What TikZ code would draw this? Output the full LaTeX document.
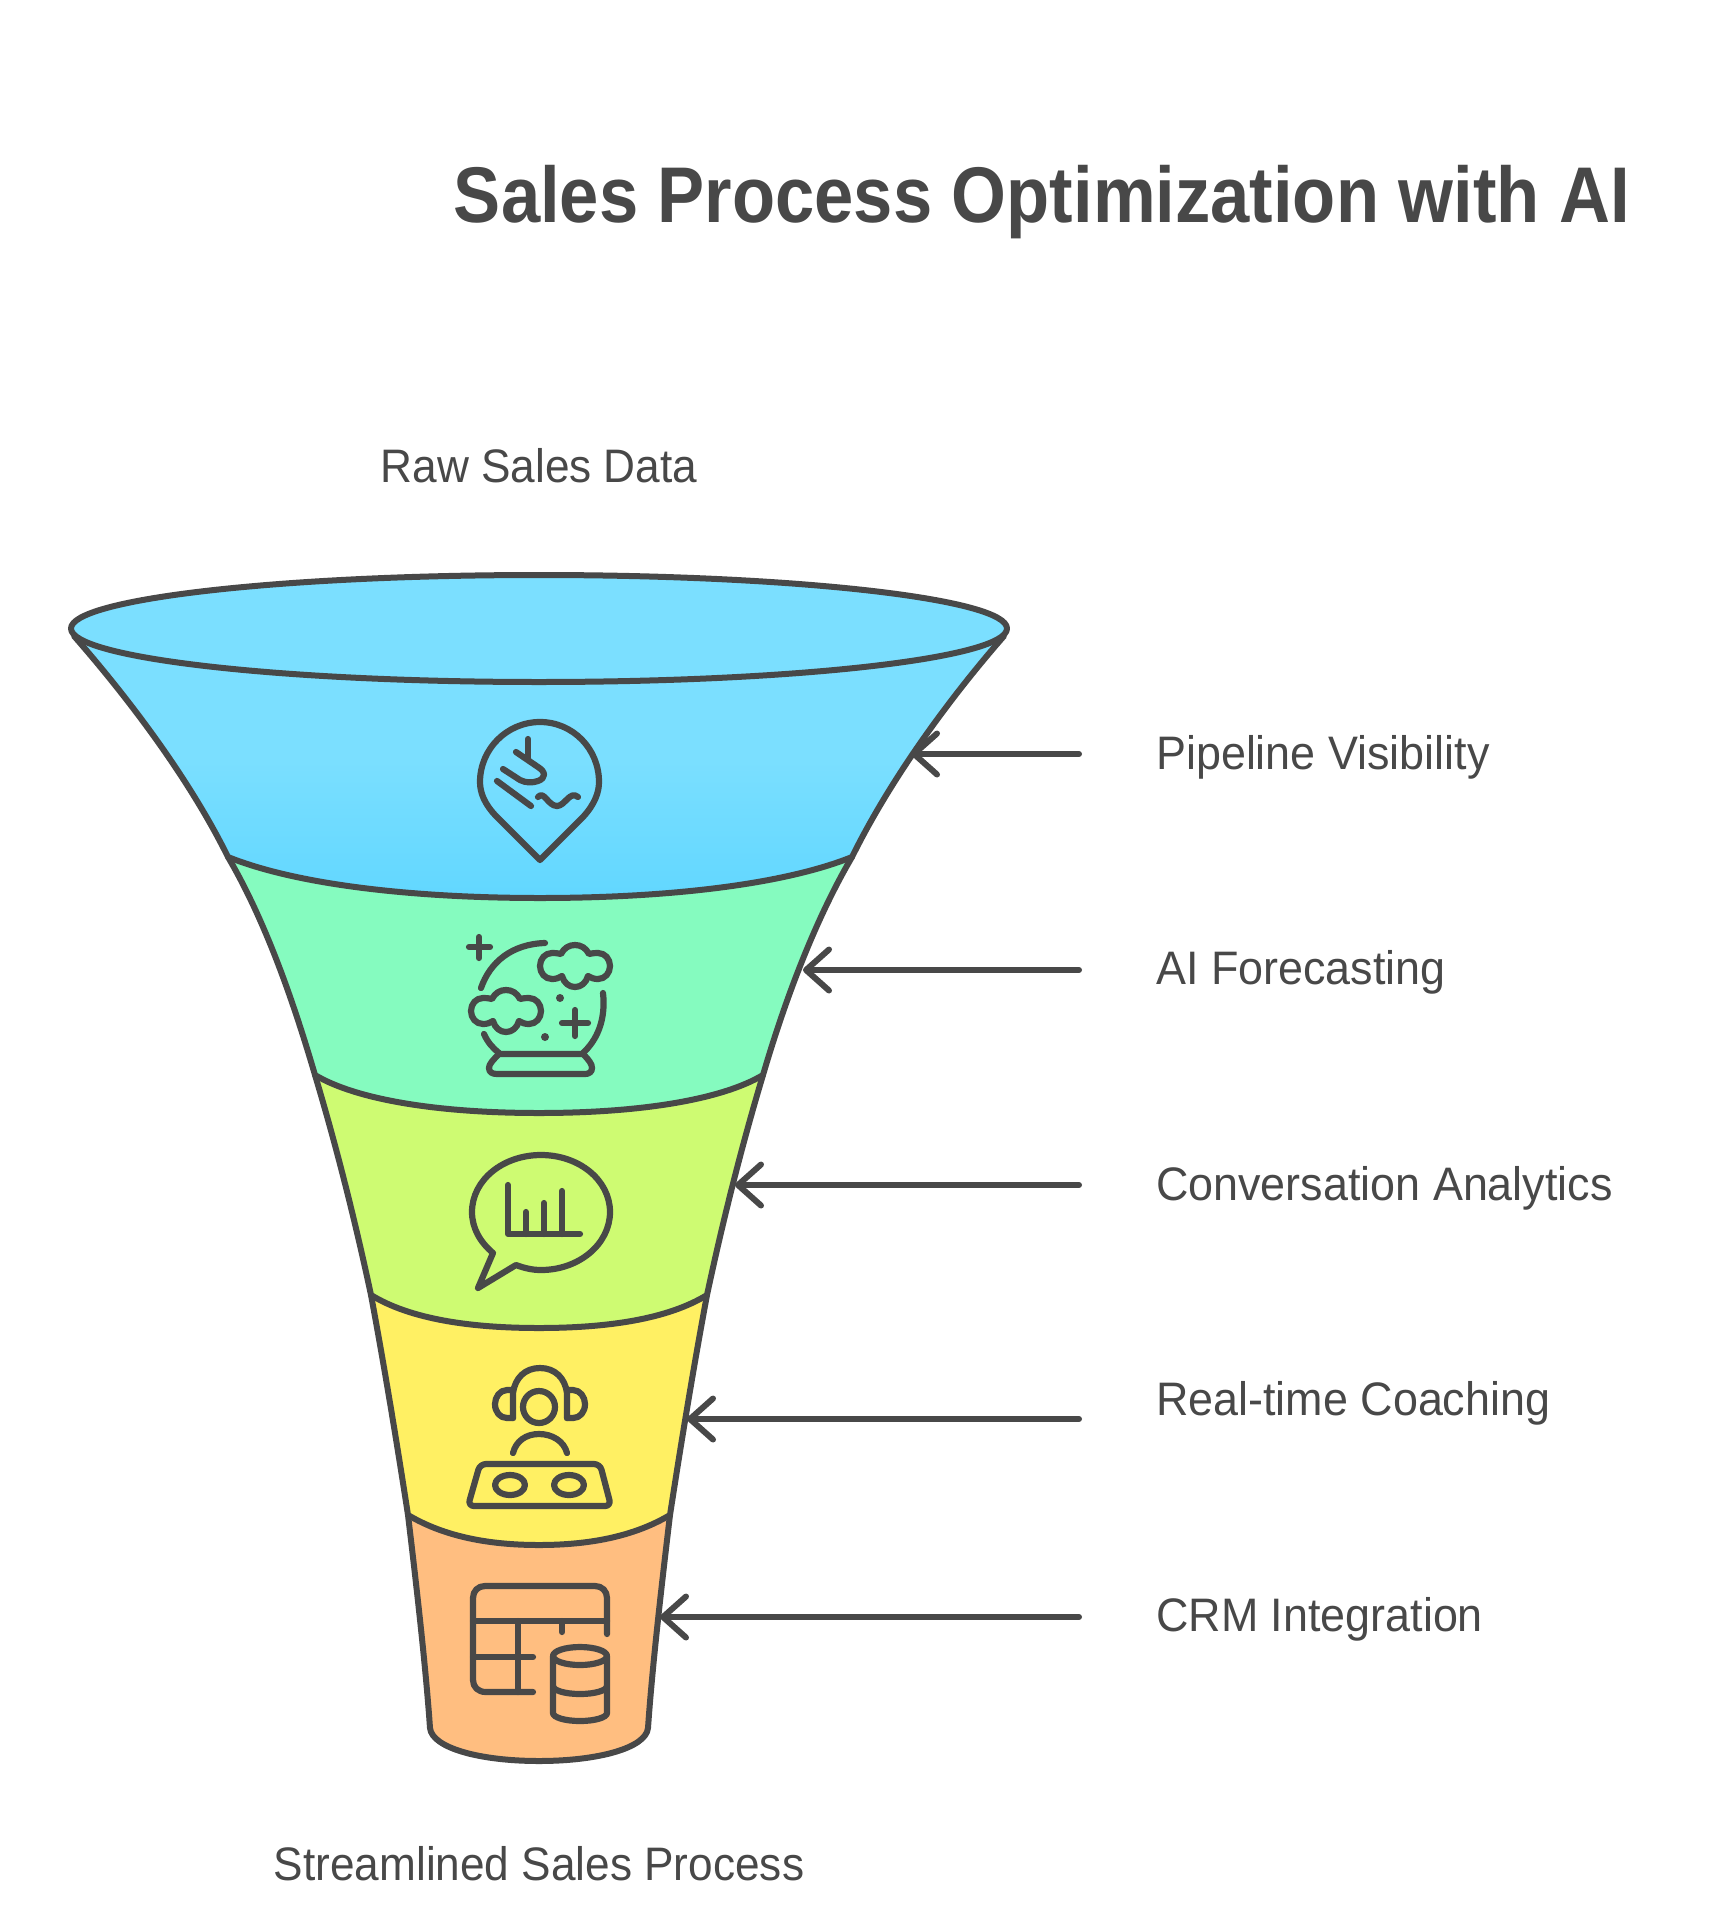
\documentclass[tikz,border=0pt]{standalone}
\usepackage{fontspec}
\setmainfont{Liberation Sans}
\newfontfamily\titlefont{Liberation Sans}[FakeStretch=0.893]
\newfontfamily\labelfont{Liberation Sans}[FakeStretch=0.955]
\newfontfamily\endfont{Liberation Sans}[FakeStretch=0.94]
\usetikzlibrary{arrows.meta}

\definecolor{inkgray}{HTML}{484848}
\definecolor{bandlight}{HTML}{7BDFFF}
\definecolor{banddeep}{HTML}{55D3FF}
\definecolor{bandmint}{HTML}{85FBBF}
\definecolor{bandlime}{HTML}{CEFB72}
\definecolor{bandyellow}{HTML}{FFF063}
\definecolor{bandorange}{HTML}{FFBE80}

\pgfdeclareverticalshading{bandsky}{100bp}{color(0bp)=(banddeep); color(12bp)=(banddeep); color(52bp)=(bandlight); color(100bp)=(bandlight)}

\tikzset{
funnelline/.style = {draw=inkgray, line width=6pt, line join=round},
iconline/.style   = {draw=inkgray, line width=6.2pt, line cap=round, line join=round},
pointer/.style    = {draw=inkgray, line width=6pt, line cap=round,
                     -{Straight Barb[length=23pt,width=41pt,round]}},
sidelabel/.style  = {anchor=base west, inner sep=0pt, text=inkgray,
                     font=\labelfont\fontsize{47}{56}\selectfont},
endlabel/.style   = {anchor=base, inner sep=0pt, text=inkgray,
                     font=\endfont\fontsize{47}{56}\selectfont},
}

\begin{document}
\begin{tikzpicture}[x=1pt,y=-1pt]
%\draw[help lines,step=100] (0,0) grid (1727,1905);
\useasboundingbox (0,0) rectangle (1727,1905);

\node[anchor=base, inner sep=0pt, text=inkgray, font=\titlefont\bfseries\fontsize{79}{94}\selectfont] (title) at (1042,222.5) {Sales Process Optimization with AI};
\node[endlabel] (rawdata) at (539,482) {Raw Sales Data};
\node[endlabel] (streamlined) at (539,1880) {Streamlined Sales Process};

% funnel, lowest band first
\draw[funnelline, fill=bandorange] (408,1515) .. controls (417,1590) and (426,1670) .. (430,1728)
  .. controls (432,1748) and (480,1761) .. (539,1761) .. controls (598,1761) and (646,1748) .. (648,1728)
  .. controls (652,1670) and (661,1590) .. (670,1515) -- cycle;
\draw[funnelline, fill=bandyellow] (371,1295) .. controls (385,1370) and (398,1450) .. (408,1515)
  .. controls (445,1537) and (490,1545) .. (539,1545) .. controls (588,1545) and (633,1537) .. (670,1515)
  .. controls (680,1450) and (693,1370) .. (707,1295) -- cycle;
\draw[funnelline, fill=bandlime] (315,1075) .. controls (336,1145) and (355,1220) .. (371,1295)
  .. controls (410,1319) and (470,1328) .. (539,1328) .. controls (608,1328) and (668,1319) .. (707,1295)
  .. controls (723,1220) and (742,1145) .. (763,1075) -- cycle;
\draw[funnelline, fill=bandmint] (228,857) .. controls (265,920) and (293,1000) .. (315,1075)
  .. controls (355,1099) and (435,1113) .. (539,1113) .. controls (643,1113) and (723,1099) .. (763,1075)
  .. controls (785,1000) and (815,920) .. (852,857) -- cycle;
\draw[funnelline, shading=bandsky] (74,636) .. controls (130,700) and (190,780) .. (228,857)
  .. controls (300,886) and (420,898) .. (540,898) .. controls (660,898) and (780,886) .. (852,857)
  .. controls (890,780) and (948,700) .. (1004,636) -- cycle;
\draw[funnelline, fill=bandlight] (539,628.5) ellipse[x radius=468, y radius=53.5];

% pin icon
\draw[iconline] (540,860) -- (497,817) .. controls (484,804) and (480,792) .. (480,782)
  .. controls (480,749) and (507,722) .. (540,722) .. controls (573,722) and (599,749) .. (599,782)
  .. controls (599,792) and (595,804) .. (583,817) -- cycle;
\draw[iconline] (528,739) -- (528,759);
\draw[iconline] (516,752) -- (538,767) .. controls (546,772) and (546,778) .. (538,781)
  .. controls (532,783) and (526,783) .. (520,780) -- (503,769);
\draw[iconline] (497,781) -- (531,806);
\draw[iconline] (538,797) .. controls (544,790) and (548,806) .. (557,806)
  .. controls (565,806) and (570,790) .. (578,797);

% crystal ball icon
\draw[iconline] (469,947) -- (490,947) (479,937) -- (479,958);
\draw[iconline] (545,943) .. controls (512,944) and (490,962) .. (481,988);
\draw[iconline] (603,993) .. controls (606,1020) and (597,1040) .. (583,1053);
\draw[iconline] (484,1034) .. controls (488,1043) and (493,1048) .. (499,1053);
\draw[iconline] (499,1054) -- (583,1054) .. controls (589,1060) and (592,1064) .. (592,1068)
  .. controls (592,1072) and (589,1074) .. (585,1074) -- (497,1074)
  .. controls (492,1074) and (489,1072) .. (489,1068) .. controls (489,1064) and (493,1060) .. (499,1054) -- cycle;
\foreach \cx/\cy in {575/966,506/1011}
  \draw[iconline, shift={(\cx,\cy)}] (-14,-12) .. controls (-18,-13) and (-21,-13) .. (-23,-13)
    .. controls (-30,-13) and (-35,-7) .. (-35,0) .. controls (-35,7) and (-30,13) .. (-23,13)
    .. controls (-19,13) and (-16,12) .. (-13,10) .. controls (-11,17) and (-6,21) .. (0,21)
    .. controls (6,21) and (11,17) .. (13,10) .. controls (16,12) and (19,13) .. (23,13)
    .. controls (30,13) and (35,7) .. (35,0) .. controls (35,-7) and (30,-13) .. (23,-13)
    .. controls (21,-13) and (18,-13) .. (14,-12) .. controls (11,-18) and (6,-21) .. (0,-21)
    .. controls (-6,-21) and (-11,-18) .. (-14,-12) -- cycle;
\fill[inkgray] (560,998) circle[radius=4] (545,1037) circle[radius=4];
\draw[iconline] (562,1023) -- (588,1023) (575,1010) -- (575,1036);

% speech bubble icon
\draw[iconline] (493,1253) .. controls (480,1242) and (472,1228) .. (472,1212)
  .. controls (472,1180) and (503,1155) .. (541,1155) .. controls (579,1155) and (610,1180) .. (610,1212)
  .. controls (610,1244) and (579,1270) .. (541,1270) .. controls (532,1270) and (524,1268) .. (516,1265)
  -- (478,1288) -- cycle;
\draw[iconline] (508,1185) -- (508,1234) -- (580,1234);
\draw[iconline] (526,1212) -- (526,1234) (544,1203) -- (544,1234) (562,1191) -- (562,1234);

% coach icon
\draw[iconline] (539,1407) circle[radius=16];
\draw[iconline] (513,1418) -- (513,1393) .. controls (515,1378) and (525,1368) .. (540,1368)
  .. controls (555,1368) and (565,1378) .. (567,1393) -- (567,1418);
\draw[iconline] (513,1390) -- (507,1390) .. controls (500,1390) and (495,1397) .. (495,1404)
  .. controls (495,1412) and (500,1418) .. (507,1418) -- (513,1418);
\draw[iconline] (567,1390) -- (573,1390) .. controls (580,1390) and (585,1397) .. (585,1404)
  .. controls (585,1412) and (580,1418) .. (573,1418) -- (567,1418);
\draw[iconline] (513,1453) .. controls (516,1441) and (526,1434) .. (539,1434) .. controls (552,1434) and (564,1441) .. (567,1453);
\draw[iconline, rounded corners=6pt] (480,1464) -- (600,1464) -- (611,1506) -- (468,1506) -- cycle;
\draw[iconline] (510,1485) ellipse[x radius=15, y radius=10];
\draw[iconline] (569,1485) ellipse[x radius=15, y radius=10];

% table and database icon
\draw[iconline] (533,1692) -- (486,1692) .. controls (478,1692) and (473,1687) .. (473,1680) -- (473,1598)
  .. controls (473,1591) and (478,1586) .. (485,1586) -- (595,1586)
  .. controls (602,1586) and (607,1591) .. (607,1598) -- (607,1634);
\draw[iconline] (473,1621) -- (607,1621) (562,1621) -- (562,1632) (518,1621) -- (518,1692) (473,1657) -- (533,1657);
\draw[iconline] (580,1656) ellipse[x radius=27, y radius=9];
\draw[iconline] (553,1656) -- (553,1713) arc[start angle=180, end angle=0, x radius=27, y radius=8] -- (607,1656);
\draw[iconline] (553,1686) arc[start angle=180, end angle=0, x radius=27, y radius=8];

% labels and pointers
\node[sidelabel] (pipeline) at (1156,769) {Pipeline Visibility};
\node[sidelabel] (forecast) at (1156,984.5) {AI Forecasting};
\node[sidelabel] (analytics) at (1156,1200) {Conversation Analytics};
\node[sidelabel] (coaching) at (1156,1415.5) {Real-time Coaching};
\node[sidelabel] (crm) at (1156,1631) {CRM Integration};

\coordinate (pipeline-tail) at (1079,754);
\coordinate (forecast-tail) at (1079,970);
\coordinate (analytics-tail) at (1079,1185);
\coordinate (coaching-tail) at (1079,1419);
\coordinate (crm-tail) at (1079,1617);

\coordinate (pipeline-tip) at (911,754);
\coordinate (forecast-tip) at (803,970);
\coordinate (analytics-tip) at (735,1185);
\coordinate (coaching-tip) at (687,1419);
\coordinate (crm-tip) at (660,1617);

\draw[pointer] (pipeline-tail) -- (pipeline-tip);
\draw[pointer] (forecast-tail) -- (forecast-tip);
\draw[pointer] (analytics-tail) -- (analytics-tip);
\draw[pointer] (coaching-tail) -- (coaching-tip);
\draw[pointer] (crm-tail) -- (crm-tip);

\end{tikzpicture}
\end{document}
